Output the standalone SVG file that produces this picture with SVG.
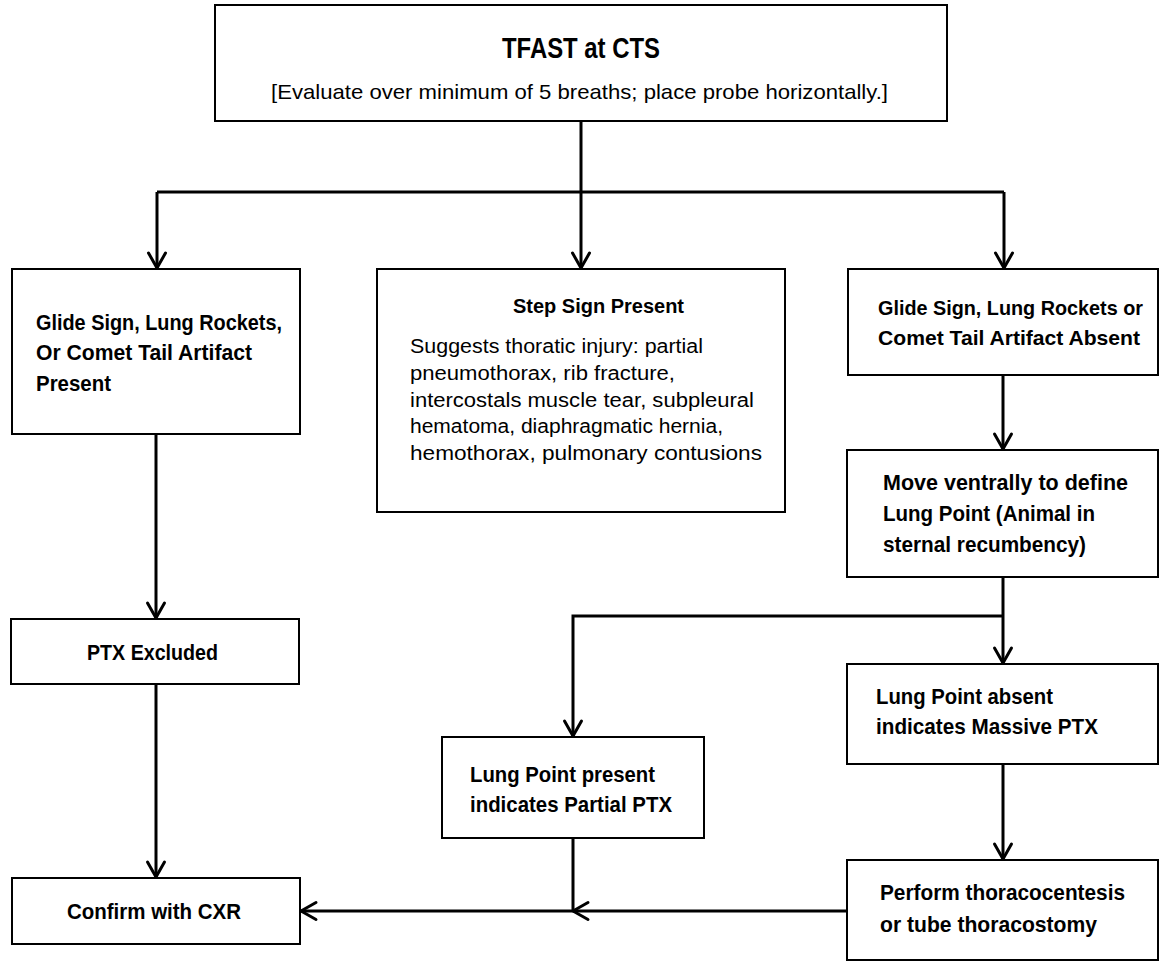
<svg xmlns="http://www.w3.org/2000/svg" width="1160" height="962" viewBox="0 0 1160 962">
<style>
.box{fill:#fff;stroke:#000;stroke-width:2}
.b{font-family:"Liberation Sans",Arial,sans-serif;font-weight:bold;font-size:22px;fill:#000}
.r{font-family:"Liberation Sans",Arial,sans-serif;font-size:20px;fill:#000}
.c{fill:none;stroke:#000;stroke-width:3}
</style>
<defs>
<marker id="ah" markerUnits="userSpaceOnUse" markerWidth="40" markerHeight="40" viewBox="-20 -20 40 40" refX="0" refY="0" orient="auto" overflow="visible">
<path d="M-15,-8.5 L0,0 L-15,8.5" fill="none" stroke="#000" stroke-width="3" stroke-linejoin="round" stroke-linecap="round"/>
</marker>
</defs>
<rect width="1160" height="962" fill="#fff"/>
<g id="connectors">
<path class="c" d="M581,121 V192"/>
<path class="c" d="M157,192 H1004"/>
<path class="c" d="M157,192 V268" marker-end="url(#ah)"/>
<path class="c" d="M581,192 V268" marker-end="url(#ah)"/>
<path class="c" d="M1004,192 V268" marker-end="url(#ah)"/>
<path class="c" d="M1003,375 V449" marker-end="url(#ah)"/>
<path class="c" d="M156,434 V618" marker-end="url(#ah)"/>
<path class="c" d="M156,685 V877" marker-end="url(#ah)"/>
<path class="c" d="M1003,577 V663" marker-end="url(#ah)"/>
<path class="c" d="M1003,616 H573 V736" marker-end="url(#ah)"/>
<path class="c" d="M1003,764 V859" marker-end="url(#ah)"/>
<path class="c" d="M847,911 H573" marker-end="url(#ah)"/>
<path class="c" d="M573,838 V911 H301" marker-end="url(#ah)"/>
</g>
<g id="n-top">
<rect class="box" x="215" y="5" width="732" height="116"/>
<text class="b" x="502" y="58" style="font-size:29px" textLength="158" lengthAdjust="spacingAndGlyphs">TFAST at CTS</text>
<text class="r" x="271" y="99" style="font-size:21px" textLength="617" lengthAdjust="spacingAndGlyphs">[Evaluate over minimum of 5 breaths; place probe horizontally.]</text>
</g>
<g id="n-present">
<rect class="box" x="12" y="269" width="288" height="165"/>
<text class="b" x="36" y="330" textLength="246" lengthAdjust="spacingAndGlyphs">Glide Sign, Lung Rockets,</text>
<text class="b" x="36" y="360" textLength="216" lengthAdjust="spacingAndGlyphs">Or Comet Tail Artifact</text>
<text class="b" x="36" y="391" textLength="75" lengthAdjust="spacingAndGlyphs">Present</text>
</g>
<g id="n-step">
<rect class="box" x="377" y="269" width="408" height="243"/>
<text class="b" x="513" y="313" style="font-size:20px" textLength="171" lengthAdjust="spacingAndGlyphs">Step Sign Present</text>
<text class="r" x="410" y="353" textLength="293" lengthAdjust="spacingAndGlyphs">Suggests thoratic injury: partial</text>
<text class="r" x="410" y="380" textLength="265" lengthAdjust="spacingAndGlyphs">pneumothorax, rib fracture,</text>
<text class="r" x="410" y="407" textLength="344" lengthAdjust="spacingAndGlyphs">intercostals muscle tear, subpleural</text>
<text class="r" x="410" y="433" textLength="313" lengthAdjust="spacingAndGlyphs">hematoma, diaphragmatic hernia,</text>
<text class="r" x="410" y="460" textLength="352" lengthAdjust="spacingAndGlyphs">hemothorax, pulmonary contusions</text>
</g>
<g id="n-absent">
<rect class="box" x="848" y="269" width="310" height="106"/>
<text class="b" x="878" y="315" style="font-size:20.5px" textLength="265" lengthAdjust="spacingAndGlyphs">Glide Sign, Lung Rockets or</text>
<text class="b" x="878" y="345" style="font-size:20.5px" textLength="262" lengthAdjust="spacingAndGlyphs">Comet Tail Artifact Absent</text>
</g>
<g id="n-move">
<rect class="box" x="847" y="450" width="311" height="127"/>
<text class="b" x="883" y="490" textLength="245" lengthAdjust="spacingAndGlyphs">Move ventrally to define</text>
<text class="b" x="883" y="521" textLength="212" lengthAdjust="spacingAndGlyphs">Lung Point (Animal in</text>
<text class="b" x="883" y="552" textLength="203" lengthAdjust="spacingAndGlyphs">sternal recumbency)</text>
</g>
<g id="n-excluded">
<rect class="box" x="11" y="619" width="288" height="65"/>
<text class="b" x="87" y="660" textLength="131" lengthAdjust="spacingAndGlyphs">PTX Excluded</text>
</g>
<g id="n-massive">
<rect class="box" x="847" y="664" width="311" height="100"/>
<text class="b" x="876" y="704" textLength="177" lengthAdjust="spacingAndGlyphs">Lung Point absent</text>
<text class="b" x="876" y="734" textLength="222" lengthAdjust="spacingAndGlyphs">indicates Massive PTX</text>
</g>
<g id="n-partial">
<rect class="box" x="442" y="737" width="262" height="101"/>
<text class="b" x="470" y="782" textLength="185" lengthAdjust="spacingAndGlyphs">Lung Point present</text>
<text class="b" x="470" y="812" textLength="202" lengthAdjust="spacingAndGlyphs">indicates Partial PTX</text>
</g>
<g id="n-confirm">
<rect class="box" x="12" y="878" width="288" height="66"/>
<text class="b" x="67" y="919" textLength="174" lengthAdjust="spacingAndGlyphs">Confirm with CXR</text>
</g>
<g id="n-perform">
<rect class="box" x="847" y="860" width="311" height="100"/>
<text class="b" x="880" y="900" textLength="245" lengthAdjust="spacingAndGlyphs">Perform thoracocentesis</text>
<text class="b" x="880" y="932" textLength="217" lengthAdjust="spacingAndGlyphs">or tube thoracostomy</text>
</g>
</svg>
